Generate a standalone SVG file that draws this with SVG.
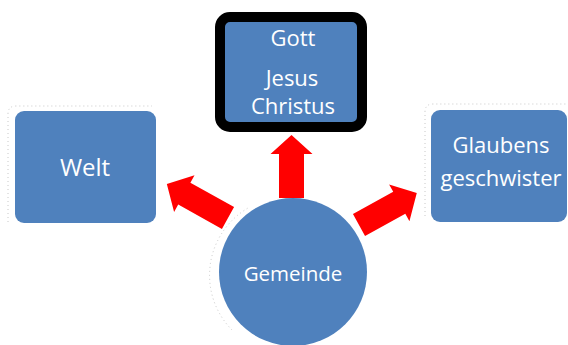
<svg xmlns="http://www.w3.org/2000/svg" width="568" height="345" viewBox="0 0 568 345">
<style>
.box{fill:#4F81BD;}
.lbl{font-family:"Open Sans","Liberation Sans",sans-serif;fill:#fff;text-anchor:middle;font-weight:500;}
.arr{fill:#FF0000;}
.ghost{fill:none;stroke:#c8c8c8;stroke-width:1;stroke-dasharray:1 3;}
</style>
<rect width="568" height="345" fill="#fff"/>
<g id="connectors">
<polygon class="arr" transform="translate(291.5,198) rotate(-90)" points="0,-12.5 44,-12.5 44,-21 63,0 44,21 44,12.5 0,12.5"/>
<polygon class="arr" transform="translate(228,218) rotate(-150.9)" points="0,-12.5 50,-12.5 50,-21 70,0 50,21 50,12.5 0,12.5"/>
<polygon class="arr" transform="translate(359,225) rotate(-28.9)" points="0,-12.5 46,-12.5 46,-21 66,0 46,21 46,12.5 0,12.5"/>
</g>
<g id="gott">
<rect class="box" x="220" y="17" width="142" height="110" rx="10" stroke="#000" stroke-width="10"/>
<text class="lbl" x="293" y="46" font-size="22">Gott</text>
<text class="lbl" x="292" y="86" font-size="22">Jesus</text>
<text class="lbl" x="293" y="114" font-size="22">Christus</text>
</g>
<g id="welt">
<path class="ghost" d="M8,222 V114 Q8,106 16,106 H152"/>
<rect class="box" x="15" y="111" width="141" height="112" rx="9"/>
<text class="lbl" x="85" y="176" font-size="24">Welt</text>
</g>
<g id="glaubensgeschwister">
<path class="ghost" d="M425,216 V112 Q425,104 433,104 H567"/>
<rect class="box" x="431" y="110" width="136" height="112" rx="9"/>
<text class="lbl" x="501" y="153" font-size="22">Glaubens</text>
<text class="lbl" x="501" y="186" font-size="22">geschwister</text>
</g>
<g id="gemeinde">
<path class="ghost" d="M232,330 A78,78 0 0 1 248,208"/>
<circle class="box" cx="293" cy="272" r="74"/>
<text class="lbl" x="293" y="281" font-size="20.5">Gemeinde</text>
</g>
</svg>
